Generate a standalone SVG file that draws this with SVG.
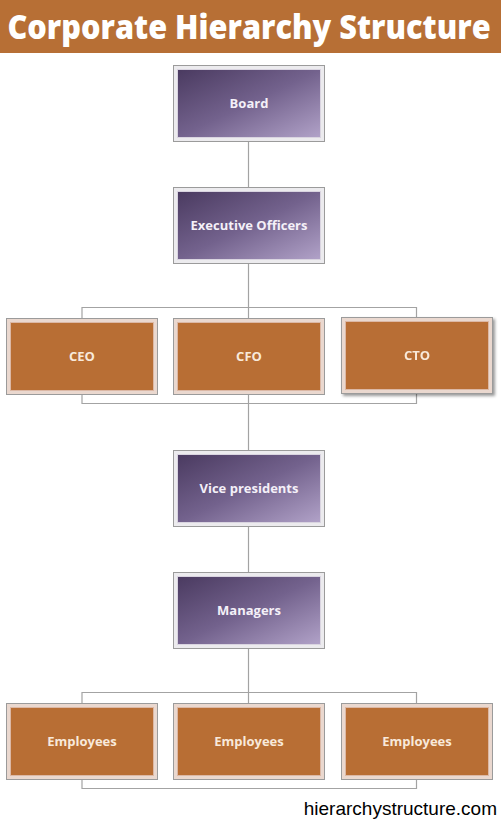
<svg xmlns="http://www.w3.org/2000/svg" width="501" height="825" viewBox="0 0 501 825">
<defs>
<linearGradient id="pg" x1="0" y1="0" x2="1" y2="1">
<stop offset="0" stop-color="#4a3a60"/>
<stop offset="0.5" stop-color="#73628d"/>
<stop offset="1" stop-color="#b1a2c8"/>
</linearGradient>
<filter id="sh" x="-10%" y="-10%" width="125%" height="130%">
<feDropShadow dx="2" dy="2" stdDeviation="1.5" flood-color="#000" flood-opacity="0.4"/>
</filter>
</defs>
<style>
.po{fill:#ecebee;stroke:#9b9b9b;stroke-width:1}
.pi{fill:url(#pg);stroke:#d9d4e0;stroke-width:1}
.oo{fill:#ead8cf;stroke:#9b9b9b;stroke-width:1}
.oi{fill:#b86e34;stroke:#dcb8a5;stroke-width:1}
.pt{font-family:"Open Sans","DejaVu Sans",sans-serif;font-weight:bold;font-size:13px;fill:#f4f0f8;text-anchor:middle}
.ot{font-family:"Open Sans","DejaVu Sans",sans-serif;font-weight:bold;font-size:13px;fill:#f8e9da;text-anchor:middle}
.ln{fill:none;stroke:#a3a3a3;stroke-width:1.2}
</style>
<rect x="0" y="0" width="501" height="53" fill="#b76f35"/>
<text transform="translate(249,39) scale(0.93,1)" x="0" y="0" font-family="'Open Sans','DejaVu Sans',sans-serif" font-weight="800" font-size="33" fill="#ffffff" text-anchor="middle">Corporate Hierarchy Structure</text>
<g id="connectors">
<path class="ln" d="M248.5 141V187"/>
<path class="ln" d="M248.5 263V450"/>
<path class="ln" d="M82 318V307.5H416.5V317"/>
<path class="ln" d="M82 394V403.5H416.5V394"/>
<path class="ln" d="M248.5 526V572"/>
<path class="ln" d="M248.5 648V703"/>
<path class="ln" d="M82 703V692.5H416.5V703"/>
<path class="ln" d="M82 779V788.5H416.5V779"/>
</g>
<g id="board">
<rect class="po" x="173.5" y="65.5" width="151" height="76"/>
<rect class="pi" x="177.5" y="69.5" width="143" height="68"/>
<text class="pt" x="249" y="108">Board</text>
</g>
<g id="executive-officers">
<rect class="po" x="173.5" y="187.5" width="151" height="76"/>
<rect class="pi" x="177.5" y="191.5" width="143" height="68"/>
<text class="pt" x="249" y="230">Executive Officers</text>
</g>
<g id="ceo">
<rect class="oo" x="6.5" y="318.5" width="151" height="76"/>
<rect class="oi" x="10.5" y="322.5" width="143" height="68"/>
<text class="ot" x="82" y="361">CEO</text>
</g>
<g id="cfo">
<rect class="oo" x="173.5" y="318.5" width="151" height="76"/>
<rect class="oi" x="177.5" y="322.5" width="143" height="68"/>
<text class="ot" x="249" y="361">CFO</text>
</g>
<g id="cto" filter="url(#sh)">
<rect class="oo" x="341.5" y="317.5" width="151" height="76"/>
<rect class="oi" x="345.5" y="321.5" width="143" height="68"/>
<text class="ot" x="417" y="360">CTO</text>
</g>
<g id="vice-presidents">
<rect class="po" x="173.5" y="450.5" width="151" height="76"/>
<rect class="pi" x="177.5" y="454.5" width="143" height="68"/>
<text class="pt" x="249" y="493">Vice presidents</text>
</g>
<g id="managers">
<rect class="po" x="173.5" y="572.5" width="151" height="76"/>
<rect class="pi" x="177.5" y="576.5" width="143" height="68"/>
<text class="pt" x="249" y="615">Managers</text>
</g>
<g id="employees-1">
<rect class="oo" x="6.5" y="703.5" width="151" height="76"/>
<rect class="oi" x="10.5" y="707.5" width="143" height="68"/>
<text class="ot" x="82" y="746">Employees</text>
</g>
<g id="employees-2">
<rect class="oo" x="173.5" y="703.5" width="151" height="76"/>
<rect class="oi" x="177.5" y="707.5" width="143" height="68"/>
<text class="ot" x="249" y="746">Employees</text>
</g>
<g id="employees-3">
<rect class="oo" x="341.5" y="703.5" width="151" height="76"/>
<rect class="oi" x="345.5" y="707.5" width="143" height="68"/>
<text class="ot" x="417" y="746">Employees</text>
</g>
<text x="497" y="815" font-family="'Liberation Sans',Arial,sans-serif" font-size="19" fill="#000000" text-anchor="end">hierarchystructure.com</text>
</svg>
